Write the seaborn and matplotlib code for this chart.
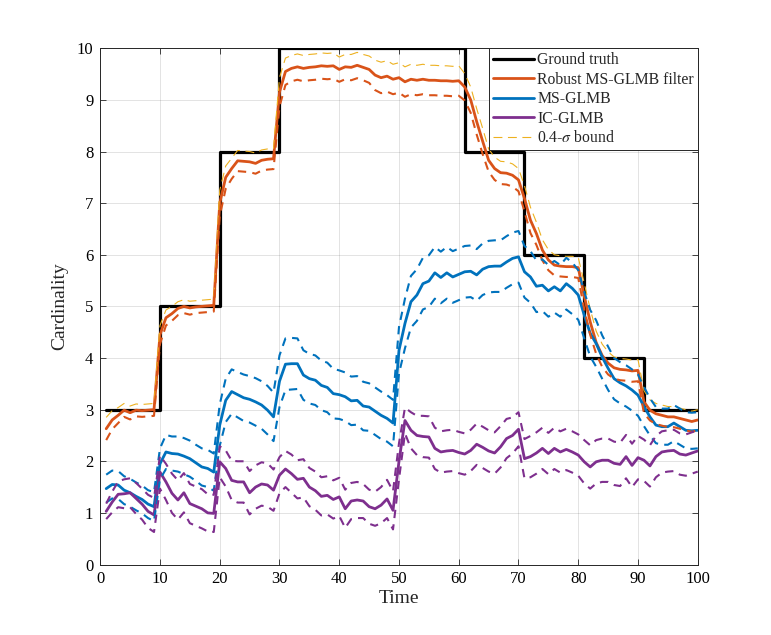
import numpy as np
import pandas as pd
import matplotlib
matplotlib.use('Agg')
import matplotlib.pyplot as plt
from matplotlib.lines import Line2D
import seaborn as sns

# time steps
time = np.arange(1, 101)

# ground truth cardinality
truth = [3] * 9 + [5] * 10 + [8] * 10 + [10] * 31 + [8] * 10 + [6] * 10 + [4] * 10 + [3] * 10

# estimated cardinality (means)
robust_mean = [
    2.63, 2.80, 2.89, 2.99, 2.94, 2.99, 2.98, 2.99, 3.00, 4.45,
    4.78, 4.86, 4.96, 5.00, 4.97, 4.99, 5.00, 5.01, 5.02, 7.00,
    7.50, 7.67, 7.82, 7.81, 7.80, 7.77, 7.83, 7.85, 7.86, 9.15,
    9.55, 9.61, 9.64, 9.61, 9.63, 9.64, 9.66, 9.65, 9.66, 9.59,
    9.64, 9.63, 9.67, 9.63, 9.59, 9.48, 9.43, 9.46, 9.40, 9.43,
    9.35, 9.40, 9.38, 9.40, 9.38, 9.38, 9.37, 9.37, 9.36, 9.37,
    9.25, 9.00, 8.58, 8.20, 7.83, 7.67, 7.59, 7.58, 7.54, 7.45,
    7.09, 6.67, 6.41, 6.09, 5.90, 5.80, 5.78, 5.77, 5.77, 5.75,
    5.20, 4.70, 4.30, 4.05, 3.90, 3.81, 3.78, 3.77, 3.75, 3.76,
    3.15, 2.99, 2.92, 2.89, 2.86, 2.86, 2.83, 2.80, 2.77, 2.80,
]
ms_mean = [
    1.47, 1.55, 1.54, 1.44, 1.39, 1.32, 1.26, 1.17, 1.12, 1.95,
    2.18, 2.15, 2.14, 2.10, 2.05, 1.97, 1.89, 1.86, 1.79, 2.70,
    3.18, 3.35, 3.29, 3.23, 3.20, 3.15, 3.09, 2.99, 2.86, 3.55,
    3.88, 3.89, 3.89, 3.67, 3.60, 3.57, 3.47, 3.43, 3.31, 3.29,
    3.25, 3.17, 3.18, 3.07, 3.05, 2.97, 2.89, 2.83, 2.74, 4.15,
    4.67, 5.09, 5.22, 5.44, 5.49, 5.65, 5.56, 5.65, 5.57, 5.62,
    5.67, 5.68, 5.61, 5.72, 5.77, 5.78, 5.78, 5.86, 5.93, 5.96,
    5.67, 5.57, 5.39, 5.41, 5.30, 5.38, 5.30, 5.44, 5.35, 5.22,
    4.83, 4.48, 4.28, 4.02, 3.80, 3.60, 3.52, 3.46, 3.38, 3.28,
    3.06, 2.86, 2.70, 2.67, 2.67, 2.74, 2.67, 2.60, 2.59, 2.60,
]
ic_mean = [
    1.03, 1.21, 1.36, 1.37, 1.39, 1.28, 1.17, 1.03, 0.96, 1.79,
    1.60, 1.38, 1.25, 1.39, 1.18, 1.13, 1.08, 1.00, 0.99, 1.99,
    1.86, 1.63, 1.60, 1.60, 1.39, 1.50, 1.56, 1.54, 1.44, 1.73,
    1.85, 1.76, 1.65, 1.67, 1.50, 1.43, 1.32, 1.34, 1.26, 1.31,
    1.08, 1.23, 1.25, 1.23, 1.12, 1.08, 1.15, 1.27, 1.05, 2.00,
    2.79, 2.60, 2.50, 2.48, 2.47, 2.25, 2.18, 2.20, 2.21, 2.17,
    2.14, 2.21, 2.33, 2.27, 2.20, 2.16, 2.28, 2.44, 2.50, 2.62,
    2.05, 2.09, 2.16, 2.25, 2.15, 2.25, 2.18, 2.23, 2.18, 2.12,
    1.99, 1.89, 1.99, 2.02, 2.02, 1.96, 1.94, 2.09, 1.92, 2.07,
    2.02, 1.91, 2.09, 2.18, 2.20, 2.21, 2.14, 2.12, 2.16, 2.20,
]

# 0.4-sigma half widths
robust_hw = [
    0.22, 0.18, 0.15, 0.13, 0.13, 0.12, 0.12, 0.12, 0.12, 0.18,
    0.15, 0.14, 0.13, 0.13, 0.13, 0.12, 0.12, 0.12, 0.12, 0.25,
    0.22, 0.20, 0.20, 0.20, 0.20, 0.20, 0.20, 0.20, 0.20, 0.28,
    0.26, 0.25, 0.25, 0.25, 0.25, 0.25, 0.25, 0.25, 0.25, 0.24,
    0.24, 0.25, 0.25, 0.25, 0.26, 0.29, 0.30, 0.30, 0.29, 0.29,
    0.29, 0.29, 0.29, 0.29, 0.29, 0.29, 0.29, 0.29, 0.29, 0.29,
    0.26, 0.25, 0.25, 0.25, 0.22, 0.22, 0.22, 0.22, 0.22, 0.22,
    0.25, 0.25, 0.22, 0.20, 0.20, 0.20, 0.20, 0.20, 0.20, 0.20,
    0.25, 0.25, 0.22, 0.22, 0.22, 0.21, 0.21, 0.21, 0.21, 0.21,
    0.22, 0.20, 0.20, 0.20, 0.20, 0.20, 0.20, 0.20, 0.20, 0.20,
]
ms_hw = [
    0.27, 0.27, 0.27, 0.27, 0.27, 0.27, 0.27, 0.27, 0.28, 0.30,
    0.33, 0.33, 0.34, 0.35, 0.35, 0.35, 0.36, 0.36, 0.36, 0.40,
    0.42, 0.43, 0.44, 0.45, 0.45, 0.46, 0.46, 0.47, 0.47, 0.50,
    0.50, 0.50, 0.49, 0.48, 0.48, 0.48, 0.48, 0.48, 0.48, 0.47,
    0.47, 0.47, 0.47, 0.47, 0.46, 0.46, 0.46, 0.45, 0.45, 0.45,
    0.48, 0.50, 0.50, 0.50, 0.50, 0.50, 0.50, 0.50, 0.50, 0.50,
    0.50, 0.50, 0.50, 0.50, 0.50, 0.50, 0.50, 0.50, 0.50, 0.50,
    0.50, 0.50, 0.50, 0.50, 0.50, 0.50, 0.50, 0.50, 0.50, 0.48,
    0.45, 0.45, 0.45, 0.42, 0.42, 0.40, 0.40, 0.40, 0.40, 0.40,
    0.38, 0.36, 0.35, 0.35, 0.35, 0.35, 0.35, 0.35, 0.35, 0.35,
]
ic_hw = [
    0.15, 0.20, 0.25, 0.28, 0.28, 0.30, 0.30, 0.32, 0.33, 0.32,
    0.35, 0.38, 0.38, 0.38, 0.38, 0.38, 0.38, 0.36, 0.36, 0.30,
    0.35, 0.38, 0.40, 0.40, 0.42, 0.42, 0.42, 0.42, 0.40, 0.35,
    0.35, 0.37, 0.37, 0.37, 0.37, 0.37, 0.37, 0.37, 0.37, 0.37,
    0.37, 0.35, 0.35, 0.33, 0.33, 0.33, 0.35, 0.37, 0.37, 0.35,
    0.25, 0.35, 0.38, 0.40, 0.40, 0.40, 0.40, 0.40, 0.40, 0.40,
    0.40, 0.40, 0.40, 0.40, 0.40, 0.40, 0.40, 0.38, 0.35, 0.33,
    0.38, 0.40, 0.40, 0.40, 0.40, 0.40, 0.40, 0.40, 0.40, 0.40,
    0.42, 0.42, 0.42, 0.42, 0.42, 0.42, 0.42, 0.42, 0.42, 0.42,
    0.40, 0.40, 0.40, 0.40, 0.40, 0.40, 0.40, 0.40, 0.40, 0.40,
]

c_black = '#000000'
c_orange = '#D95319'
c_blue = '#0072BD'
c_purple = '#7E2F8E'
c_yellow = '#EDB120'

df = pd.DataFrame({
    'Time': time,
    'truth': truth,
    'robust': robust_mean,
    'robust_lo': np.array(robust_mean) - np.array(robust_hw),
    'robust_hi': np.array(robust_mean) + np.array(robust_hw),
    'ms': ms_mean,
    'ms_lo': np.array(ms_mean) - np.array(ms_hw),
    'ms_hi': np.array(ms_mean) + np.array(ms_hw),
    'ic': ic_mean,
    'ic_lo': np.array(ic_mean) - np.array(ic_hw),
    'ic_hi': np.array(ic_mean) + np.array(ic_hw),
})

sns.set_theme(style='ticks')
plt.rcParams['font.family'] = ['Liberation Serif', 'DejaVu Serif']
plt.rcParams['mathtext.fontset'] = 'stix'

fig = plt.figure(figsize=(7.71, 6.35), dpi=100)
ax = fig.add_axes([0.13, 0.111, 0.775, 0.813])

dash = (0, (4, 3))
sns.lineplot(data=df, x='Time', y='truth', ax=ax, color=c_black, lw=2.3,
             drawstyle='steps-post', zorder=3)
sns.lineplot(data=df, x='Time', y='robust', ax=ax, color=c_orange, lw=2.0, zorder=4)
sns.lineplot(data=df, x='Time', y='ms', ax=ax, color=c_blue, lw=2.0, zorder=4)
sns.lineplot(data=df, x='Time', y='ic', ax=ax, color=c_purple, lw=2.0, zorder=4)
sns.lineplot(data=df, x='Time', y='robust_hi', ax=ax, color=c_yellow, lw=0.8,
             linestyle=(0, (8, 5)), zorder=4)
sns.lineplot(data=df, x='Time', y='robust_lo', ax=ax, color=c_orange, lw=1.5,
             linestyle=dash, zorder=4)
sns.lineplot(data=df, x='Time', y='ms_hi', ax=ax, color=c_blue, lw=1.5, linestyle=dash, zorder=4)
sns.lineplot(data=df, x='Time', y='ms_lo', ax=ax, color=c_blue, lw=1.5, linestyle=dash, zorder=4)
sns.lineplot(data=df, x='Time', y='ic_hi', ax=ax, color=c_purple, lw=1.5, linestyle=dash, zorder=4)
sns.lineplot(data=df, x='Time', y='ic_lo', ax=ax, color=c_purple, lw=1.5, linestyle=dash, zorder=4)

ax.set_xlim(0, 100)
ax.set_ylim(0, 10)
ax.set_xticks(np.arange(0, 101, 10))
ax.set_yticks(np.arange(0, 11, 1))
ax.grid(True, color='#262626', alpha=0.15, lw=0.6)
ax.set_axisbelow(True)
ax.tick_params(direction='in', top=True, right=True, length=4, width=0.6,
               labelsize=12, colors='#262626', labelcolor='black', pad=5)
for s in ax.spines.values():
    s.set_linewidth(0.7)
    s.set_color('#262626')
ax.set_xlabel('Time', fontsize=14, labelpad=2)
ax.set_ylabel('Cardinality', fontsize=14, labelpad=6)

handles = [
    Line2D([], [], color=c_black, lw=2.3),
    Line2D([], [], color=c_orange, lw=2.0),
    Line2D([], [], color=c_blue, lw=2.0),
    Line2D([], [], color=c_purple, lw=2.0),
    Line2D([], [], color=c_yellow, lw=0.8, linestyle=(0, (8, 5))),
]
labels = ['Ground truth', 'Robust MS-GLMB filter', 'MS-GLMB', 'IC-GLMB',
          r'0.4-$\sigma$ bound']
leg = ax.legend(handles, labels, loc='upper right', borderaxespad=0, fontsize=11.3,
                frameon=True, fancybox=False, handlelength=2.6, handletextpad=0.2,
                labelspacing=0.22, borderpad=0.25)
leg.get_frame().set_edgecolor('#262626')
leg.get_frame().set_linewidth(0.7)
leg.get_frame().set_alpha(1)
leg.set_zorder(10)

fig.savefig('out.png', dpi=100)
